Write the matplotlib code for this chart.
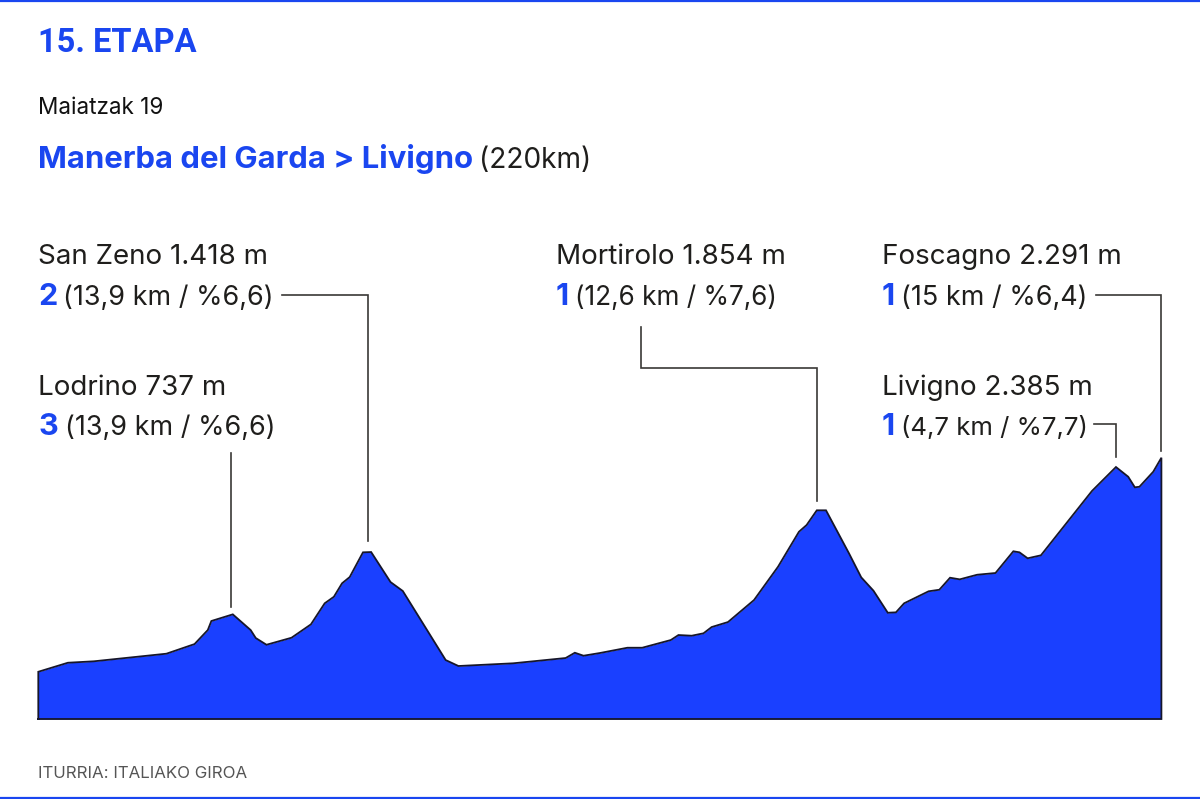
import matplotlib
matplotlib.use("Agg")
import matplotlib.pyplot as plt

km = [0, 5.8, 10.9, 25.1, 30.6, 33.2, 33.9, 38.1, 41.6, 42.6, 44.7, 49.6, 53.4, 56.1,
      57.9, 59.5, 61.0, 63.6, 65.2, 69.0, 71.4, 79.8, 82.3, 93.0, 103.3, 105.1, 106.8,
      110.0, 115.4, 118.3, 123.9, 125.4, 128.0, 130.3, 131.9, 135.1, 140.2, 144.9,
      149.0, 150.5, 152.5, 154.3, 158.8, 161.2, 163.6, 166.4, 168.0, 169.6, 174.4,
      176.5, 178.6, 180.5, 183.9, 187.5, 191.0, 192.2, 193.8, 196.4, 206.4, 211.1,
      213.5, 214.8, 215.7, 218.4, 220]
elevation = [159, 253, 268, 347, 447, 593, 687, 756, 593, 510, 440, 513, 652, 871,
             939, 1079, 1144, 1401, 1404, 1092, 999, 281, 219, 247, 302, 357, 326,
             354, 409, 409, 489, 541, 534, 559, 624, 676, 905, 1251,
             1615, 1685, 1838, 1838, 1391, 1141, 1002, 773, 777, 871, 996,
             1012, 1137, 1120, 1168, 1186, 1412, 1401, 1339, 1370, 2039, 2288,
             2187, 2077, 2083, 2239, 2385]

climb_names = ["San Zeno 1.418 m", "Lodrino 737 m", "Mortirolo 1.854 m",
               "Foscagno 2.291 m", "Livigno 2.385 m"]
climb_cats = ["2", "3", "1", "1", "1"]
climb_details = ["(13,9 km / %6,6)", "(13,9 km / %6,6)", "(12,6 km / %7,6)",
                 "(15 km / %6,4)", "(4,7 km / %7,7)"]
climb_km = [64.6, 37.8, 152.5, 220, 211.1]

BLUE = "#1a40ff"
TITLE_BLUE = "#1a46f0"
DARK = "#1f1e1c"
FONT = "Inter"
W, H = 1200, 799

fig = plt.figure(figsize=(W / 100, H / 100), dpi=100, facecolor="white")
ov = fig.add_axes([0, 0, 1, 1])
ov.set_xlim(0, W); ov.set_ylim(H, 0); ov.axis("off")
ax = fig.add_axes([38.3 / W, (H - 719) / H, (1161.4 - 38.3) / W, (719 - 457.7) / H])
ax.set_xlim(0, 220); ax.set_ylim(-332, 2385); ax.axis("off")
ax.fill_between(km, elevation, -332, color=BLUE, lw=0, clip_on=False)
ax.plot([0] + km + [220, 0], [-332] + elevation + [-332, -332], color="#16162a", lw=1.3,
        solid_joinstyle="miter", clip_on=False)

def to_px(k):
    return ov.transData.inverted().transform(ax.transData.transform((k, 0)))[0]

ov.plot([0, W], [1, 1], color=TITLE_BLUE, lw=1.6)
ov.plot([0, W], [798, 798], color=TITLE_BLUE, lw=1.6)

def label(x, y, s, size, color=DARK, weight="normal", family=FONT):
    return ov.text(x, y, s, fontsize=size, color=color, fontweight=weight, family=family,
                   va="baseline", ha="left")

label(38, 52, "15. ETAPA", 23.5, TITLE_BLUE, "bold", "Roboto")
label(38, 114, "Maiatzak 19", 16.2, "#111111")
label(38, 168, "Manerba del Garda > Livigno", 22.35, TITLE_BLUE, "bold")
label(479, 168, "(220km)", 20.2, DARK)

pos = [(38, 264, 305), (38, 395, 435), (556, 264, 305), (882, 264, 305), (882, 395, 435)]
detail_x = [63, 65, 575, 901, 901]
detail_size = [19.4, 19.4, 18.8, 19.4, 18.5]
for (x, y1, y2), name, cat, det, dx, ds in zip(pos, climb_names, climb_cats, climb_details,
                                               detail_x, detail_size):
    label(x, y1, name, 20, DARK)
    label(x, y2, cat, 22, TITLE_BLUE, "bold")
    label(dx, y2, det, ds, DARK)

leaders = [
    ([282, to_px(climb_km[0]), to_px(climb_km[0])], [295, 295, 541]),
    ([to_px(climb_km[1]), to_px(climb_km[1])], [453, 607]),
    ([641, 641, to_px(climb_km[2]), to_px(climb_km[2])], [327, 368, 368, 501]),
    ([1096, to_px(climb_km[3]), to_px(climb_km[3])], [295, 295, 451]),
    ([1094, to_px(climb_km[4]), to_px(climb_km[4])], [424, 424, 457]),
]
for xs, ys in leaders:
    ov.plot(xs, ys, color="#3a3836", lw=1.2, solid_joinstyle="miter")

label(38, 778, "ITURRIA: ITALIAKO GIROA", 12.15, "#555555")

fig.savefig("out.png", dpi=100)
